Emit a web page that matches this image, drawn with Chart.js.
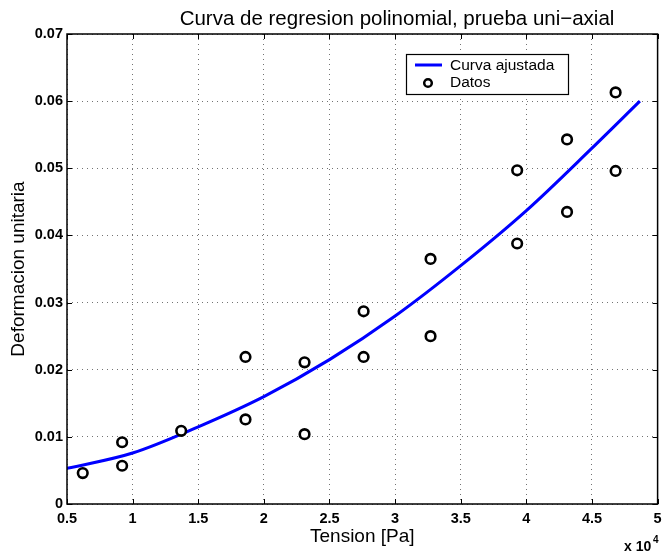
<!DOCTYPE html>
<html>
<head>
<meta charset="utf-8">
<script src="https://cdn.jsdelivr.net/npm/chart.js@4.4.0/dist/chart.umd.min.js"></script>
<style>
  html, body { margin: 0; padding: 0; background: #fff; }
  #wrap { width: 665px; height: 555px; }
</style>
</head>
<body>
<div id="wrap"><canvas id="chartFit"></canvas></div>
<script>
  "use strict";

  var titulo = "Curva de regresion polinomial, prueba uni\u2212axial";

  // tension in units of 1e4 Pa
  var xDatos = [0.62, 0.92, 0.92, 1.37, 1.86, 1.86, 2.31, 2.31, 2.76, 2.76,
                3.27, 3.27, 3.93, 3.93, 4.31, 4.31, 4.68, 4.68];
  var yDatos = [0.0046, 0.0092, 0.0057, 0.0109, 0.0219, 0.0126, 0.0211, 0.0104, 0.0287, 0.0219,
                0.0365, 0.0250, 0.0497, 0.0388, 0.0543, 0.0435, 0.0613, 0.0496];

  // fitted curve
  var xCurva = [0.5, 1.0, 1.5, 2.0, 2.5, 3.0, 3.5, 4.0, 4.5, 4.865];
  var yCurva = [0.0053, 0.0076, 0.0115, 0.0160, 0.0215, 0.0280, 0.0355, 0.0437, 0.0530, 0.0600];

  var xTicks = [0.5, 1, 1.5, 2, 2.5, 3, 3.5, 4, 4.5, 5];
  var yTicks = [0, 0.01, 0.02, 0.03, 0.04, 0.05, 0.06, 0.07];

  var FONT = "'Liberation Sans', Arial, Helvetica, sans-serif";

  function toPoints(xs, ys) {
    return xs.map(function(x, i) { return { x: x, y: ys[i] }; });
  }

  // box around the axes, inward ticks, title, legend and exponent label
  var matlabAxes = {
    id: "matlabAxes",
    afterDraw: function(chart) {
      var c = chart.ctx, a = chart.chartArea;
      var sx = chart.scales.x, sy = chart.scales.y;
      c.save();
      c.strokeStyle = "#000";
      c.lineWidth = 1;
      c.beginPath();
      xTicks.forEach(function(v) {
        var p = Math.round(sx.getPixelForValue(v)) + 0.5;
        c.moveTo(p, a.bottom); c.lineTo(p, a.bottom - 5);
        c.moveTo(p, a.top); c.lineTo(p, a.top + 5);
      });
      yTicks.forEach(function(v) {
        var p = Math.round(sy.getPixelForValue(v)) + 0.5;
        c.moveTo(a.left, p); c.lineTo(a.left + 5, p);
        c.moveTo(a.right, p); c.lineTo(a.right - 5, p);
      });
      c.stroke();
      c.lineWidth = 1.5;
      c.strokeRect(a.left, a.top, a.right - a.left, a.bottom - a.top);

      // title
      c.fillStyle = "#000";
      c.font = "20.5px " + FONT;
      c.textAlign = "center";
      c.textBaseline = "alphabetic";
      c.fillText(titulo, 397, 25);

      // legend
      var lx = 406, ly = 54, lw = 162, lh = 40;
      c.fillStyle = "#fff";
      c.fillRect(lx, ly, lw, lh);
      c.strokeStyle = "#000";
      c.lineWidth = 1.2;
      c.strokeRect(lx + 0.5, ly + 0.5, lw, lh);
      var ds = chart.data.datasets;
      c.font = "15.5px " + FONT;
      c.textBaseline = "middle";
      c.textAlign = "left";
      c.strokeStyle = ds[0].borderColor;
      c.lineWidth = 3;
      c.beginPath();
      c.moveTo(lx + 9, ly + 11); c.lineTo(lx + 36, ly + 11);
      c.stroke();
      c.fillStyle = "#000";
      c.fillText(ds[0].label, lx + 44, ly + 12);
      c.strokeStyle = ds[1].borderColor;
      c.lineWidth = 2.5;
      c.beginPath();
      c.arc(lx + 22, ly + 29, 3.8, 0, Math.PI * 2);
      c.stroke();
      c.fillText(ds[1].label, lx + 44, ly + 29);

      // exponent of the x axis
      c.font = "bold 14px " + FONT;
      c.textBaseline = "alphabetic";
      c.fillText("x 10", 624, 551);
      c.font = "bold 10px " + FONT;
      c.fillText("4", 653, 543);
      c.restore();
    }
  };

  var ctx = document.getElementById("chartFit").getContext("2d");

  var myChart = new Chart(ctx, {
    type: "scatter",
    data: {
      datasets: [{
        type: "line",
        label: "Curva ajustada",
        data: toPoints(xCurva, yCurva),
        borderColor: "rgb(0,0,255)",
        borderWidth: 3,
        pointRadius: 0,
        fill: false,
        cubicInterpolationMode: "monotone",
        order: 2
      }, {
        label: "Datos",
        data: toPoints(xDatos, yDatos),
        borderColor: "#000",
        backgroundColor: "#fff",
        borderWidth: 2.6,
        pointRadius: 4.8,
        pointHoverRadius: 4.8,
        order: 1
      }]
    },
    plugins: [matlabAxes],
    options: {
      responsive: true,
      maintainAspectRatio: false,
      animation: false,
      layout: { padding: { left: 0, right: 3, top: 34, bottom: 0 } },
      plugins: {
        legend: { display: false },
        tooltip: { enabled: false },
        title: { display: false }
      },
      scales: {
        x: {
          type: "linear",
          min: 0.5,
          max: 5,
          afterFit: function(s) { s.height = 51; s.paddingRight = 0; s.paddingLeft = 0; },
          afterBuildTicks: function(s) { s.ticks = xTicks.map(function(v) { return { value: v }; }); },
          ticks: {
            color: "#000",
            padding: 6,
            font: { family: FONT, size: 14.5, weight: "bold" },
            callback: function(v) { return String(v); }
          },
          grid: { color: "rgba(0,0,0,0.55)", drawTicks: false },
          border: { display: false, dash: [1, 4] },
          title: {
            display: true,
            text: "Tension [Pa]",
            color: "#000",
            font: { family: FONT, size: 19 },
            padding: { top: 0, bottom: 7 }
          }
        },
        y: {
          min: 0,
          max: 0.07,
          afterFit: function(s) { s.width = 67; },
          afterBuildTicks: function(s) { s.ticks = yTicks.map(function(v) { return { value: v }; }); },
          ticks: {
            color: "#000",
            padding: 4,
            font: { family: FONT, size: 14.5, weight: "bold" },
            callback: function(v) { return String(Math.round(v * 100) / 100); }
          },
          grid: { color: "rgba(0,0,0,0.55)", drawTicks: false },
          border: { display: false, dash: [1, 4] },
          title: {
            display: true,
            text: "Deformacion unitaria",
            color: "#000",
            font: { family: FONT, size: 19 },
            padding: { top: 7, bottom: 0 }
          }
        }
      }
    }
  });
</script>
</body>
</html>
